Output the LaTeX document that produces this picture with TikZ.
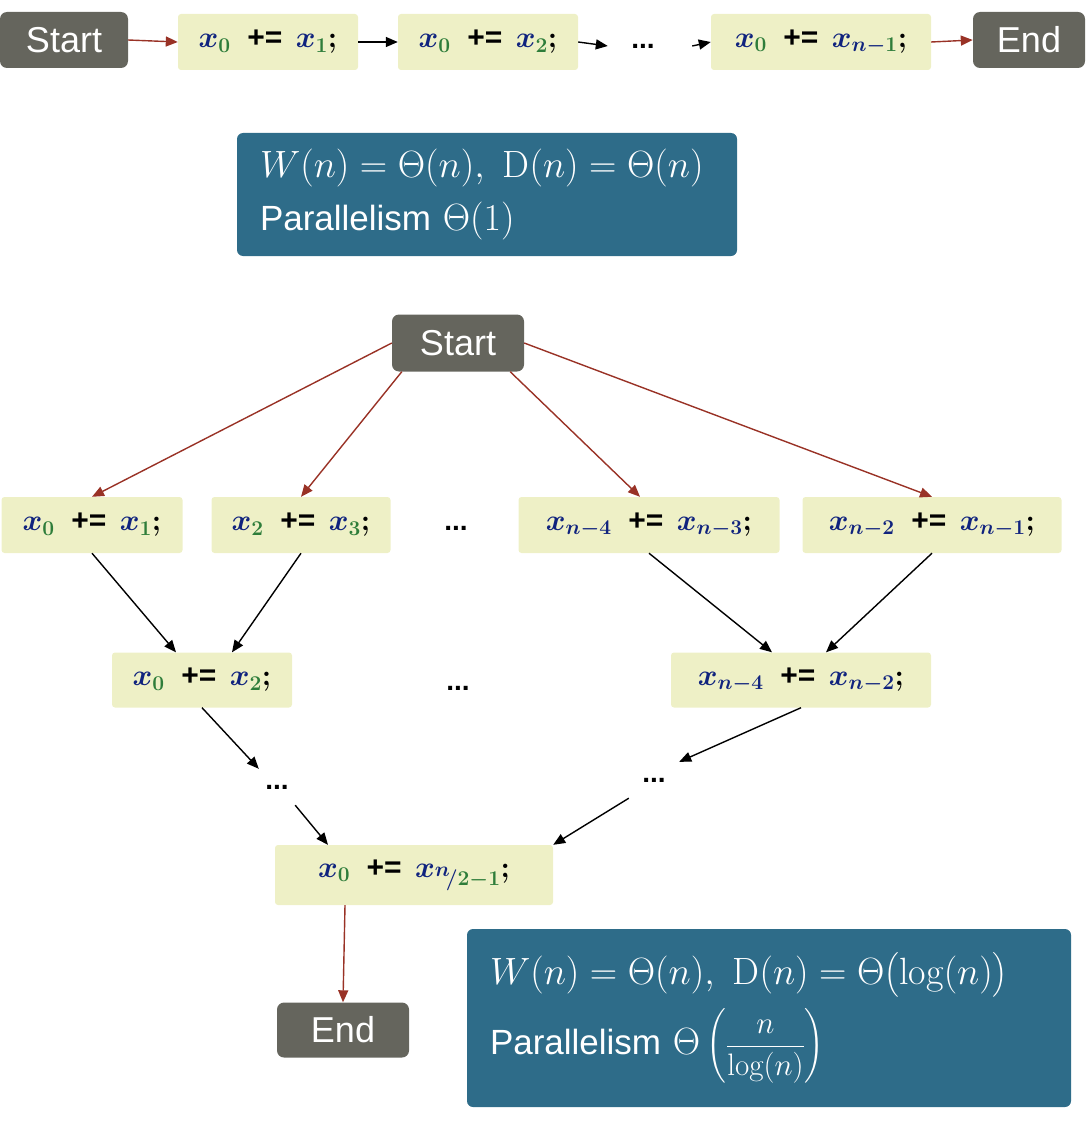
\RequirePackage{fix-cm}
\documentclass[tikz,border=0pt]{standalone}
\usepackage{amsmath}
\usepackage{fontspec}
\setsansfont{Liberation Sans}
\usepackage{xcolor}
\usetikzlibrary{arrows.meta, positioning}

\definecolor{termgray}{HTML}{65655D}
\definecolor{codebg}{HTML}{EEF0C6}
\definecolor{infoblue}{HTML}{2E6C89}
\definecolor{edgered}{HTML}{993226}
\definecolor{varblue}{HTML}{10237E}
\definecolor{idxgreen}{HTML}{2E7D3A}

% x with a coloured index, green / navy parts
\newcommand{\xs}[1]{\textcolor{varblue}{x}_{#1}}
\newcommand{\gn}[1]{{\color{idxgreen}#1}}
\newcommand{\bn}[1]{{\color{varblue}#1}}
% one line of code: a += b;
\newcommand{\code}[2]{$#1$\hspace{0.55em}\textsf{\textbf{+=}}\hspace{0.45em}$#2$\textbf{;}}
% larger math for the summary boxes
\newcommand{\bigmath}[1]{{\fontsize{38}{53}\selectfont$#1$}}

\begin{document}
\begin{tikzpicture}[x=1pt, y=-1pt, >={Triangle[length=12pt,width=10pt]},
    termbox/.style={fill=termgray, rounded corners=7pt, text=white, inner sep=0pt,
        minimum height=56pt, font=\sffamily\fontsize{36}{40}\selectfont},
    codebox/.style={fill=codebg, rounded corners=3pt, inner sep=0pt,
        minimum height=56pt, font=\fontsize{30}{34}\selectfont\boldmath},
    infobox/.style={fill=infoblue, rounded corners=6pt, text=white, align=left,
        inner xsep=23pt, font=\sffamily\fontsize{35}{53}\selectfont},
    dotsnode/.style={inner sep=0pt, font=\sffamily\bfseries\fontsize{28}{30}\selectfont},
    redarr/.style={->, edgered, line width=1.4pt},
    blkarr/.style={->, black, line width=1.4pt}]
    \useasboundingbox (0,0) rectangle (1089,1121);

    % --- sequential sum ---
    \node[termbox, minimum width=128pt] (s1) at (64,40) {Start};
    \node[codebox, minimum width=180pt] (t1) at (268,42) {\code{\xs{\gn{0}}}{\xs{\gn{1}}}};
    \node[codebox, minimum width=180pt] (t2) at (488,42) {\code{\xs{\gn{0}}}{\xs{\gn{2}}}};
    \node[dotsnode, minimum width=70pt, minimum height=30pt] (td) at (643,46) {...};
    \node[codebox, minimum width=220pt] (t3) at (821,42) {\code{\xs{\gn{0}}}{\xs{\bn{n-}\gn{1}}}};
    \node[termbox, minimum width=112pt] (e1) at (1029,40) {End};

    \draw[redarr] (s1.east) -- (t1.west);
    \draw[blkarr] (t1.east) -- (t2.west);
    \draw[blkarr] (t2.east) -- (td.west);
    \draw[blkarr] ([xshift=14pt]td.east) -- (t3.west);
    \draw[redarr] (t3.east) -- (e1.west);

    \node[infobox, text width=454pt, minimum height=123pt] (w1) at (487,194.5)
        {\bigmath{W(n)=\Theta(n),\ \mathrm{D}(n)=\Theta(n)}\\ Parallelism \bigmath{\Theta(1)}};

    % --- tree sum ---
    \node[termbox, minimum width=132pt, minimum height=57pt] (s2) at (458,343) {Start};

    \node[codebox, minimum width=181pt] (a1) at (92,525) {\code{\xs{\gn{0}}}{\xs{\gn{1}}}};
    \node[codebox, minimum width=179pt] (a2) at (301,525) {\code{\xs{\gn{2}}}{\xs{\gn{3}}}};
    \node[dotsnode] (ad) at (456,528) {...};
    \node[codebox, minimum width=261pt] (a3) at (649,525) {\code{\xs{\bn{n-4}}}{\xs{\bn{n-3}}}};
    \node[codebox, minimum width=259pt] (a4) at (932,525) {\code{\xs{\bn{n-2}}}{\xs{\bn{n-1}}}};

    \draw[redarr] (s2.west) -- (a1.north);
    \draw[redarr] ([xshift=10pt]s2.south west) -- (a2.north);
    \draw[redarr] ([xshift=-14pt]s2.south east) -- ([xshift=-9pt]a3.north);
    \draw[redarr] (s2.east) -- (a4.north);

    \node[codebox, minimum width=180pt, minimum height=55pt] (b1) at (202,680) {\code{\xs{\gn{0}}}{\xs{\gn{2}}}};
    \node[dotsnode] (bd) at (458,688) {...};
    \node[codebox, minimum width=260pt, minimum height=55pt] (b2) at (801,680) {\code{\xs{\bn{n-4}}}{\xs{\bn{n-2}}}};

    \draw[blkarr] (a1.south) -- ([xshift=-26pt]b1.north);
    \draw[blkarr] (a2.south) -- ([xshift=30pt]b1.north);
    \draw[blkarr] (a3.south) -- ([xshift=-29pt]b2.north);
    \draw[blkarr] (a4.south) -- ([xshift=25pt]b2.north);

    \node[dotsnode, minimum width=36pt, minimum height=36pt] (d1) at (277,787) {...};
    \node[dotsnode, minimum width=50pt, minimum height=36pt] (d2) at (654,780) {...};

    \draw[blkarr] (b1.south) -- (d1.north west);
    \draw[blkarr] (b2.south) -- (d2.north east);

    \node[codebox, minimum width=278pt, minimum height=60pt] (c1) at (414,875)
        {\code{\xs{\gn{0}}}{\textcolor{varblue}{x}_{\raisebox{0.3em}{$\scriptstyle\bn{n}$}\!\bn{/}\gn{2-1}}}};

    \draw[blkarr] (d1.south east) -- ([xshift=-86pt]c1.north);
    \draw[blkarr] (d2.south west) -- (c1.north east);

    \node[termbox, minimum width=132pt, minimum height=55pt] (e2) at (343,1030) {End};
    \draw[redarr] ([xshift=-69pt]c1.south) -- (e2.north);

    \node[infobox, text width=558pt, minimum height=178pt] (w2) at (769,1018)
        {\bigmath{W(n)=\Theta(n),\ \mathrm{D}(n)=\Theta\bigl(\log(n)\bigr)}\\[10pt]
         Parallelism \bigmath{\Theta\,}{\fontsize{31}{40}\selectfont$\left(\dfrac{n}{\log(n)}\right)$}};
\end{tikzpicture}
\end{document}
